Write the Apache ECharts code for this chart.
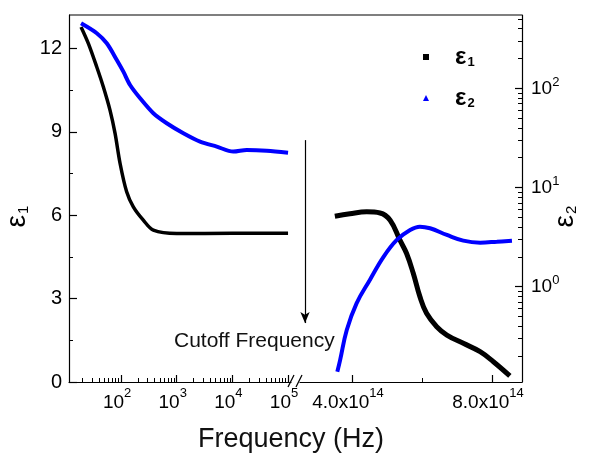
<!DOCTYPE html>
<html><head><meta charset="utf-8">
<script src="https://cdn.jsdelivr.net/npm/echarts@6/dist/echarts.min.js"></script>
<style>html,body{margin:0;padding:0;background:#fff}#c{width:589px;height:457px}</style>
</head><body><div id="c"></div>
<script>
// ---------- data ----------
const eps1LowFreq = [19.1, 25.9, 36.6, 48.1, 63.4, 78.0, 96.0, 126, 166, 251, 380, 1000, 10000, 100000];
const eps1LowVal  = [12.77, 12.17, 11.33, 10.61, 9.77, 8.94, 7.86, 6.84, 6.30, 5.82, 5.46, 5.34, 5.35, 5.35];
const eps2LowFreq = [19.1, 36.6, 55.3, 83.8, 110, 145, 220, 380, 662, 1315, 2624, 5236, 10400, 18100, 41400, 100000];
const eps2LowVal  = [452, 359, 284, 193, 147, 108, 79.3, 56.0, 44.4, 35.2, 29.0, 25.8, 23.0, 23.9, 23.5, 22.4];
const eps1HighFreq = [3.51e14, 3.94e14, 4.42e14, 4.80e14, 5.09e14, 5.37e14, 5.56e14, 5.75e14, 5.94e14, 6.13e14, 6.42e14, 6.71e14, 7.18e14, 7.66e14, 8.04e14, 8.51e14];
const eps1HighVal  = [5.96, 6.05, 6.12, 6.08, 5.82, 5.10, 4.62, 3.91, 3.07, 2.47, 1.99, 1.69, 1.39, 1.09, 0.73, 0.22];
const eps2HighFreq = [3.58e14, 3.66e14, 3.85e14, 4.13e14, 4.51e14, 4.90e14, 5.28e14, 5.66e14, 5.94e14, 6.23e14, 6.71e14, 7.18e14, 7.66e14, 8.14e14, 8.57e14];
const eps2HighVal  = [0.139, 0.182, 0.366, 0.68, 1.17, 2.0, 2.96, 3.73, 4.03, 3.88, 3.32, 2.91, 2.78, 2.84, 2.91];

const eps1TickLabels = [0, 3, 6, 9, 12];
const eps1MinorTicks = [1.5, 4.5, 7.5, 10.5];
const lowFreqLabels = [100, 1000, 10000, 100000];
const highFreqLabels = [4e14, 8e14];
const highFreqMinor = [6e14];
const eps2Labels = [1, 10, 100];
const cutoffMarker = { freq: 2.657e14, from: 8.70, to: 2.12 };

// ---------- helpers ----------
const FONT = 'Liberation Sans, Arial, sans-serif';
function minorsOf(decades) {
  const out = [];
  decades.forEach(d => { for (let k = 2; k <= 9; k++) out.push(+(d * k).toPrecision(6)); });
  return out;
}
const lowFreqMinor = minorsOf([10, 100, 1000, 10000]);
const eps2Minor = minorsOf([0.1, 1, 10, 100]);
const zip = (a, b) => a.map((v, i) => [v, b[i]]);

const LOWF = [11.6, 1.13e5];
const HIGHF = [2.514e14, 8.857e14];
const E1 = [0, 13.2];
const E2 = [0.1094, 548];
const black = '#000';
const blue = '#0000ff';
const lineAx = { show: true, lineStyle: { color: black, width: 1.2 } };
const supRichX = {
  b: { fontSize: 19, fontFamily: FONT, color: black, lineHeight: 19, verticalAlign: 'bottom' },
  s: { fontSize: 13, fontFamily: FONT, color: black, lineHeight: 25, verticalAlign: 'top', padding: [0, 8, 0, 0] }
};
const supRichY = {
  b: { fontSize: 19, fontFamily: FONT, color: black, lineHeight: 19, verticalAlign: 'middle' },
  s: { fontSize: 13, fontFamily: FONT, color: black, lineHeight: 25, verticalAlign: 'top' }
};
const nameRich = {
  e: { fontSize: 28, fontFamily: FONT, color: black, lineHeight: 28 },
  s: { fontSize: 15, fontFamily: FONT, color: black, lineHeight: 15, verticalAlign: 'bottom', padding: [16, 36, 0, 1] }
};
const pow10 = v => Math.round(Math.log10(v));

const chart = echarts.init(document.getElementById('c'), null, { renderer: 'canvas' });
chart.setOption({
  animation: false,
  backgroundColor: '#fff',
  grid: [
    { left: 69, top: 15, width: 222, height: 367, containLabel: false, outerBoundsMode: 'none' },
    { left: 300, top: 15, width: 222, height: 367, containLabel: false, outerBoundsMode: 'none' }
  ],
  xAxis: [
    { gridIndex: 0, type: 'log', min: LOWF[0], max: LOWF[1], position: 'bottom',
      axisLine: lineAx, splitLine: { show: false }, minorTick: { show: false },
      axisTick: { show: true, inside: true, length: 7, customValues: lowFreqLabels, lineStyle: { color: black, width: 1.2 } },
      axisLabel: { show: true, customValues: lowFreqLabels, margin: 5,
        formatter: v => '{b|10}{s|' + pow10(v) + '}', rich: supRichX } },
    { gridIndex: 0, type: 'log', min: LOWF[0], max: LOWF[1], position: 'bottom',
      axisLine: { show: false }, splitLine: { show: false },
      axisTick: { show: true, inside: true, length: 4, customValues: lowFreqMinor, lineStyle: { color: black, width: 1 } },
      axisLabel: { show: false } },
    { gridIndex: 1, type: 'value', min: HIGHF[0], max: HIGHF[1], position: 'bottom',
      axisLine: lineAx, splitLine: { show: false },
      axisTick: { show: true, inside: true, length: 7, customValues: highFreqLabels, lineStyle: { color: black, width: 1.2 } },
      axisLabel: { show: true, customValues: highFreqLabels, margin: 5,
        formatter: v => '{b|' + (v / 1e14).toFixed(1) + 'x10}{s|14}', rich: supRichX } },
    { gridIndex: 1, type: 'value', min: HIGHF[0], max: HIGHF[1], position: 'bottom',
      axisLine: { show: false }, splitLine: { show: false },
      axisTick: { show: true, inside: true, length: 4, customValues: highFreqMinor, lineStyle: { color: black, width: 1 } },
      axisLabel: { show: false } }
  ],
  yAxis: [
    { gridIndex: 0, type: 'value', min: E1[0], max: E1[1], position: 'left',
      axisLine: lineAx, splitLine: { show: false },
      axisTick: { show: true, inside: true, length: 8, customValues: eps1TickLabels, lineStyle: { color: black, width: 1.2 } },
      axisLabel: { show: true, customValues: eps1TickLabels, margin: 7, fontSize: 20, fontFamily: FONT, color: black },
      name: '{e|ε}{s|1}', nameLocation: 'middle', nameRotate: 90, nameGap: 38, nameMoveOverlap: false,
      nameTextStyle: { rich: nameRich } },
    { gridIndex: 0, type: 'log', min: E2[0], max: E2[1], show: false },
    { gridIndex: 1, type: 'value', min: E1[0], max: E1[1], show: false },
    { gridIndex: 1, type: 'log', min: E2[0], max: E2[1], position: 'right',
      axisLine: lineAx, splitLine: { show: false }, minorTick: { show: false },
      axisTick: { show: true, inside: true, length: 7, customValues: eps2Labels, lineStyle: { color: black, width: 1.2 } },
      axisLabel: { show: true, customValues: eps2Labels, margin: 9, align: 'left',
        formatter: v => '{b|10}{s|' + pow10(v) + '}', rich: supRichY },
      name: '{e|ε}{s|2}', nameLocation: 'middle', nameRotate: 90, nameGap: 29, nameMoveOverlap: false,
      nameTextStyle: { rich: nameRich } },
    { gridIndex: 1, type: 'log', min: E2[0], max: E2[1], position: 'right',
      axisLine: { show: false }, splitLine: { show: false },
      axisTick: { show: true, inside: true, length: 4, customValues: eps2Minor, lineStyle: { color: black, width: 1 } },
      axisLabel: { show: false } },
    { gridIndex: 0, type: 'value', min: E1[0], max: E1[1], position: 'left',
      axisLine: { show: false }, splitLine: { show: false },
      axisTick: { show: true, inside: true, length: 4, customValues: eps1MinorTicks, lineStyle: { color: black, width: 1 } },
      axisLabel: { show: false } }
  ],
  legend: {
    orient: 'vertical', left: 423, top: 42, padding: 0, itemWidth: 6, itemHeight: 6, itemGap: 14,
    lineStyle: { width: 0 },
    data: [{ name: 'ε1', icon: 'rect' }, { name: 'ε2', icon: 'triangle' }],
    formatter: n => '{e|ε}{s|' + n.slice(1) + '}',
    textStyle: { rich: {
      e: { fontSize: 24, fontWeight: 'bold', fontFamily: FONT, color: black, lineHeight: 24, padding: [0, 0, 0, 21] },
      s: { fontSize: 13, fontWeight: 'bold', fontFamily: FONT, color: black, lineHeight: 13, verticalAlign: 'bottom', padding: [14, 0, 0, 1] } } }
  },
  graphic: [
    { type: 'line', shape: { x1: 69, y1: 15, x2: 522, y2: 15 }, style: { stroke: black, lineWidth: 1.2 }, silent: true },
    { type: 'line', shape: { x1: 288, y1: 387, x2: 294, y2: 375 }, style: { stroke: black, lineWidth: 1.2 }, silent: true },
    { type: 'line', shape: { x1: 296, y1: 387, x2: 302, y2: 375 }, style: { stroke: black, lineWidth: 1.2 }, silent: true },
    { type: 'text', left: 174, top: 331, style: { text: 'Cutoff Frequency', fontSize: 21, fontFamily: FONT, fill: '#111' }, silent: true },
    { type: 'text', left: 198, top: 426, style: { text: 'Frequency (Hz)', fontSize: 27, fontFamily: FONT, fill: '#111' }, silent: true }
  ],
  series: [
    { type: 'line', name: 'ε1', xAxisIndex: 0, yAxisIndex: 0, data: zip(eps1LowFreq, eps1LowVal),
      symbol: 'rect', showSymbol: false, smooth: 0.3, lineStyle: { color: black, width: 3.5 }, itemStyle: { color: black } },
    { type: 'line', name: 'ε2', xAxisIndex: 0, yAxisIndex: 1, data: zip(eps2LowFreq, eps2LowVal),
      symbol: 'triangle', showSymbol: false, smooth: 0.3, lineStyle: { color: blue, width: 4 }, itemStyle: { color: blue } },
    { type: 'line', name: 'ε1', xAxisIndex: 2, yAxisIndex: 2, data: zip(eps1HighFreq, eps1HighVal),
      symbol: 'rect', showSymbol: false, smooth: 0.4, lineStyle: { color: black, width: 5 }, itemStyle: { color: black },
      markLine: { silent: true, symbol: ['none', 'arrow'], symbolSize: [7, 11], label: { show: false },
        lineStyle: { color: black, width: 1.2, type: 'solid' },
        data: [[{ coord: [cutoffMarker.freq, cutoffMarker.from] }, { coord: [cutoffMarker.freq, cutoffMarker.to] }]] } },
    { type: 'line', name: 'ε2', xAxisIndex: 2, yAxisIndex: 3, data: zip(eps2HighFreq, eps2HighVal),
      symbol: 'triangle', showSymbol: false, smooth: 0.4, lineStyle: { color: blue, width: 4 }, itemStyle: { color: blue } }
  ]
});
</script></body></html>
